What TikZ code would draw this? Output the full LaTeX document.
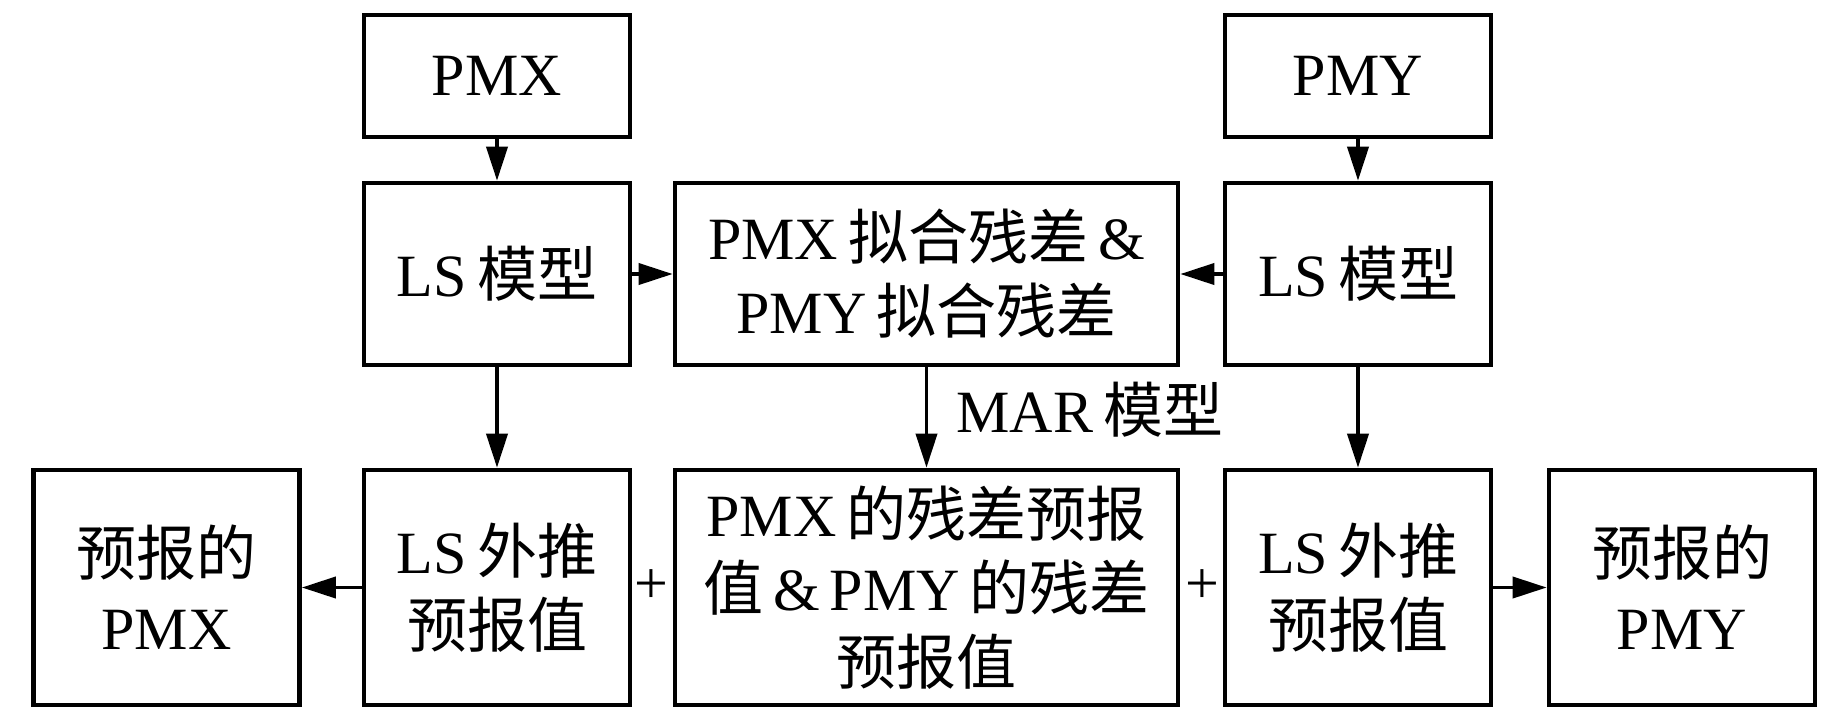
\documentclass[tikz,border=0pt]{standalone}
\usepackage{fontspec}
\setmainfont{Liberation Serif}
\newfontfamily\cjk{Noto Sans CJK SC}
\usetikzlibrary{arrows.meta}
\newcommand{\zh}[1]{{\cjk #1}}
\newcommand{\gapzh}{\kern5pt}
\begin{document}
\begin{tikzpicture}[x=0.5pt,y=-0.5pt,
  box/.style={draw, line width=2.3pt, inner sep=0pt, align=center,
    font=\fontsize{30pt}{37pt}\selectfont},
  narrowbox/.style={box, minimum width=133pt},
  arr/.style={-{Triangle[length=17pt,width=10.5pt]}, line width=1.9pt},
  lbl/.style={inner sep=0pt, font=\fontsize{30pt}{37pt}\selectfont}]
\useasboundingbox (0,0) rectangle (1843,709);
% top row
\node[narrowbox, minimum height=61pt] (pmx) at (497,76) {PMX};
\node[narrowbox, minimum height=61pt] (pmy) at (1358,76) {PMY};
% middle row
\node[narrowbox, minimum height=91pt] (lsx) at (497,274) {LS\gapzh\zh{模型}};
\node[box, minimum width=251.5pt, minimum height=91pt] (fit) at (926.5,274)
  {PMX\gapzh\zh{拟合残差}\gapzh\&\\PMY\gapzh\zh{拟合残差}};
\node[narrowbox, minimum height=91pt] (lsy) at (1358,274) {LS\gapzh\zh{模型}};
% bottom row
\node[narrowbox, minimum height=117.5pt] (outx) at (166.5,587.5) {\zh{预报的}\\PMX};
\node[narrowbox, minimum height=117.5pt] (extx) at (497,587.5) {LS\gapzh\zh{外推}\\\zh{预报值}};
\node[box, minimum width=251.5pt, minimum height=117.5pt] (mid) at (926.5,587.5)
  {PMX\gapzh\zh{的残差预报}\\\zh{值}\gapzh\&\gapzh PMY\gapzh\zh{的残差}\\\zh{预报值}};
\node[narrowbox, minimum height=117.5pt] (exty) at (1358,587.5) {LS\gapzh\zh{外推}\\\zh{预报值}};
\node[narrowbox, minimum height=117.5pt] (outy) at (1682,587.5) {\zh{预报的}\\PMY};
% labels
\node[lbl, anchor=west] (mar) at (956,410) {MAR\gapzh\zh{模型}};
\node[lbl] (plus1) at (651,587) {+};
\node[lbl] (plus2) at (1202,587) {+};
% connectors
\draw[arr] (pmx) -- (lsx);
\draw[arr] (pmy) -- (lsy);
\draw[arr] (lsx) -- (fit);
\draw[arr] (lsy) -- (fit);
\draw[arr] (lsx) -- (extx);
\draw[arr] (lsy) -- (exty);
\draw[arr] (fit) -- (mid);
\draw[arr] (extx) -- (outx);
\draw[arr] (exty) -- (outy);
\end{tikzpicture}
\end{document}
